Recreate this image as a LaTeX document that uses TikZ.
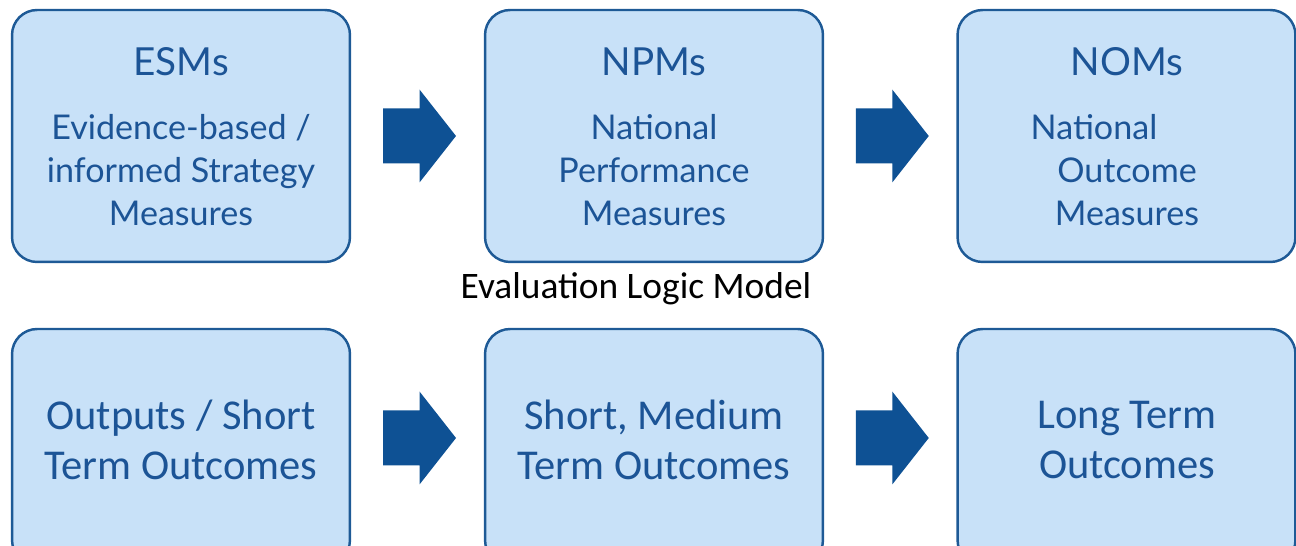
\documentclass[tikz,border=0pt]{standalone}
\usepackage{fontspec}
\setmainfont{Lato}
\newfontfamily\calfont{Carlito}
\usetikzlibrary{calc}
\definecolor{boxfill}{RGB}{200, 225, 248}
\definecolor{boxline}{RGB}{30, 90, 150}
\definecolor{boxtext}{RGB}{28, 84, 150}
\definecolor{arrowcolor}{RGB}{14, 81, 148}

\begin{document}
\begin{tikzpicture}[x=0.02cm, y=-0.02cm,
    box/.style={rectangle, rounded corners=0.5cm, draw=boxline, fill=boxfill, line width=1.4pt, minimum width=6.76cm, minimum height=5.04cm, inner sep=0pt},
    lowbox/.style={box, minimum height=4.72cm},
    title/.style={text=boxtext, font=\fontsize{22}{26}\selectfont, inner sep=0pt},
    body/.style={text=boxtext, align=center, font=\fontsize{19.4}{24.5}\selectfont, inner sep=0pt},
    lowtext/.style={text=boxtext, align=center, font=\calfont\fontsize{24.2}{28.5}\selectfont, inner sep=0pt},
    caption/.style={text=black, font=\calfont\fontsize{21.3}{25}\selectfont, inner sep=0pt},
    blockarrow/.style={fill=arrowcolor}]
        \clip (0,0) rectangle (1296,546);

        % ESMs
        \node[box] (esm) at (181,136) {};
        \node[title] (esmt) at (181,62) {ESMs};
        \node[body] (esmb) at (181,170) {Evidence-based /\\informed Strategy\\Measures};

        % NPMs
        \node[box] (npm) at (654,136) {};
        \node[title] (npmt) at (654,62) {NPMs};
        \node[body] (npmb) at (654,170) {National\\Performance\\Measures};

        % NOMs
        \node[box] (nom) at (1126.5,136) {};
        \node[title] (nomt) at (1127,62) {NOMs};
        \node[body] (nomb) at (1127,170) {National\hspace*{1.32cm}\\Outcome\\Measures};

        % Evaluation logic model
        \node[caption] (elm) at (636,289) {Evaluation Logic Model};

        % Outcomes
        \node[lowbox] (out) at (181,447) {};
        \node[lowtext] (outt) at (181,440) {Outputs / Short\\Term Outcomes};
        \node[lowbox] (smt) at (654,447) {};
        \node[lowtext] (smtt) at (654,440) {Short, Medium\\Term Outcomes};
        \node[lowbox] (ltm) at (1126.5,447) {};
        \node[lowtext] (ltmt) at (1127,440) {Long Term\\Outcomes};

        % Block arrows
        \coordinate (a1) at ($(esm.east)!0.5!(npm.west)+(2,0)$);
        \coordinate (a2) at ($(npm.east)!0.5!(nom.west)+(2,0)$);
        \coordinate (a3) at ($(out.east)!0.5!(smt.west)+(2,-9)$);
        \coordinate (a4) at ($(smt.east)!0.5!(ltm.west)+(2,-9)$);
        \foreach \c in {a1,a2,a3,a4}
            \fill[blockarrow] (\c) ++(-36.5,-27.5) -- ++(36.5,0) -- ++(0,-19) -- ++(36.5,46.5) -- ++(-36.5,46.5) -- ++(0,-19) -- ++(-36.5,0) -- cycle;
    \end{tikzpicture}
\end{document}
